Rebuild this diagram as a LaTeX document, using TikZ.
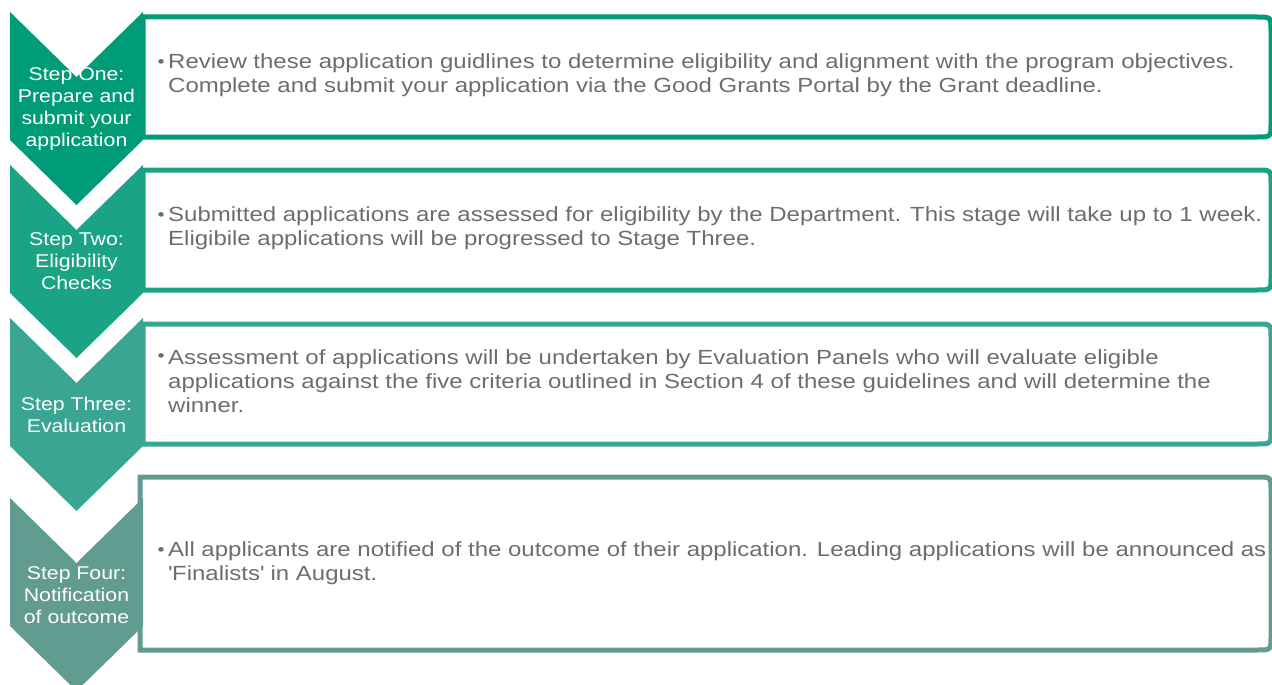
\documentclass[tikz,border=0pt]{standalone}
\usepackage{fontspec}
\setmainfont{Liberation Sans}
\newfontfamily\bodyfont[FakeStretch=1.17]{Liberation Sans}
\newfontfamily\chevfont[FakeStretch=1.15]{Liberation Sans}
\usepackage{tikz}

\definecolor{stepA}{RGB}{0,155,119}
\definecolor{stepB}{RGB}{27,163,134}
\definecolor{stepC}{RGB}{58,165,146}
\definecolor{stepD}{RGB}{98,155,144}
\definecolor{bodygrey}{RGB}{112,108,106}

\tikzset{
    chevtext/.style={text=white, align=center, inner sep=0pt, font=\chevfont\fontsize{18.5}{22}\selectfont},
    bodytext/.style={text=bodygrey, align=left, anchor=west, inner sep=0pt, font=\bodyfont\fontsize{20.5}{24}\selectfont},
    bulletdot/.style={text=bodygrey, inner sep=0pt, font=\bodyfont\fontsize{17}{17}\selectfont},
}

\begin{document}
\begin{tikzpicture}[x=1pt, y=-1pt]
    \useasboundingbox (0,0) rectangle (1272,685);
    \clip (0,0) rectangle (1272,685);

    % boxes, right corners rounded
    \foreach \l/\t/\b/\c in {143/17/137/stepA, 143/170/290/stepB, 143/324/444/stepC, 140/477/650/stepD}
        \draw[\c, line width=5pt] (\l,\b) -- (\l,\t) -- (1257,\t) .. controls (1271,\t) .. (1271,\t+14)
            -- (1271,\b-14) .. controls (1271,\b) .. (1257,\b) -- cycle;

    % chevrons
    \foreach \t/\c in {12/stepA, 165/stepB, 318/stepC, 498/stepD}
        \fill[\c] (10,\t) -- (76.5,\t+65) -- (143,\t) -- (143,\t+128) -- (76.5,\t+193) -- (10,\t+128) -- cycle;

    \node[chevtext] (stepone) at (76.5,108.5) {Step One:\\Prepare and\\submit your\\application};
    \node[chevtext] (steptwo) at (76.5,261) {Step Two:\\Eligibility\\Checks};
    \node[chevtext] (stepthree) at (76.5,415) {Step Three:\\Evaluation};
    \node[chevtext] (stepfour) at (76.5,595) {Step Four:\\Notification\\of outcome};

    \node[bulletdot] (bulone) at (161,64) {•};
    \node[bodytext] (textone) at (168,75) {Review these application guidlines to determine eligibility and alignment with the program objectives.\\Complete and submit your application via the Good Grants Portal by the Grant deadline.};
    \node[bulletdot] (bultwo) at (161,217) {•};
    \node[bodytext] (texttwo) at (168,228) {Submitted applications are assessed for eligibility by the Department. This stage will take up to 1 week.\\Eligibile applications will be progressed to Stage Three.};
    \node[bulletdot] (bulthree) at (161,358) {•};
    \node[bodytext] (textthree) at (168,381) {Assessment of applications will be undertaken by Evaluation Panels who will evaluate eligible\\applications against the five criteria outlined in Section 4 of these guidelines and will determine the\\winner.};
    \node[bulletdot] (bulfour) at (161,552) {•};
    \node[bodytext] (textfour) at (168,563) {All applicants are notified of the outcome of their application. Leading applications will be announced as\\\textquotesingle Finalists\textquotesingle{} in August.};
\end{tikzpicture}
\end{document}
